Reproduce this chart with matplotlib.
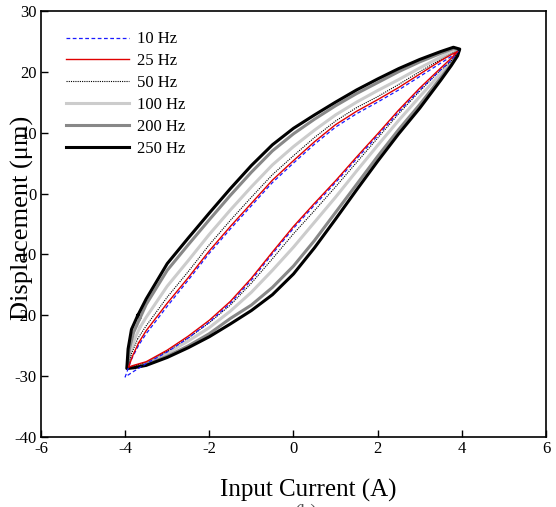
import matplotlib
matplotlib.use("Agg")
import matplotlib.pyplot as plt

plt.rcParams['font.family'] = ['Liberation Serif', 'DejaVu Serif']
plt.rcParams['axes.unicode_minus'] = False

# common current grid (A) for the middle part of every branch
current = [-3.5, -3.0, -2.5, -2.0, -1.5, -1.0, -0.5, 0.0, 0.5, 1.0, 1.5, 2.0, 2.5, 3.0, 3.5]

# 10 Hz
lo_10 = [-27.9, -26.0, -23.7, -21.1, -18.0, -14.2, -9.9, -5.7, -1.9, 1.8, 5.7, 9.5, 13.4, 17.0, 20.3]
up_10 = [-23.0, -18.5, -14.2, -9.8, -5.8, -2.0, 1.8, 5.0, 8.1, 10.9, 13.1, 15.0, 17.0, 19.2, 21.4]
bot_10_x = [-3.68, -3.85, -4.0, -3.8]
bot_10_y = [-24.9, -27.2, -30.1, -29.2]
top_10_x = [3.75, 3.92, 3.75]
top_10_y = [21.9, 23.4, 22.5]

# 25 Hz
lo_25 = [-27.6, -25.7, -23.4, -20.8, -17.7, -13.9, -9.6, -5.4, -1.6, 2.1, 6.0, 9.8, 13.7, 17.3, 20.6]
up_25 = [-22.5, -18.0, -13.8, -9.4, -5.4, -1.6, 2.2, 5.4, 8.5, 11.3, 13.5, 15.4, 17.4, 19.6, 21.8]
bot_25_x = [-3.68, -3.82, -3.92, -3.8]
bot_25_y = [-24.5, -26.6, -28.5, -28.2]
top_25_x = [3.75, 3.9, 3.75]
top_25_y = [22.2, 23.3, 22.8]

# 50 Hz
lo_50 = [-27.7, -25.9, -23.7, -21.2, -18.3, -14.7, -10.7, -6.6, -2.8, 1.1, 5.1, 9.1, 13.1, 16.8, 20.3]
up_50 = [-21.7, -17.0, -12.8, -8.4, -4.4, -0.6, 3.1, 6.2, 9.2, 11.9, 14.1, 15.9, 17.9, 20.0, 22.0]
bot_50_x = [-3.7, -3.85, -3.92, -3.8]
bot_50_y = [-23.8, -26.3, -28.5, -28.3]
top_50_x = [3.7, 3.82, 3.92, 3.8]
top_50_y = [21.4, 22.4, 23.4, 23.1]

# 100 Hz
lo_100 = [-27.9, -26.2, -24.2, -22.0, -19.3, -16.2, -12.6, -8.8, -4.7, -0.6, 3.7, 7.9, 12.0, 15.9, 19.7]
up_100 = [-20.3, -15.2, -11.0, -6.7, -2.7, 1.1, 4.7, 7.7, 10.4, 12.9, 15.0, 16.9, 18.7, 20.6, 22.4]
bot_100_x = [-3.65, -3.77, -3.88, -3.94, -3.8]
bot_100_y = [-22.0, -23.8, -26.0, -28.6, -28.4]
top_100_x = [3.7, 3.85, 3.93, 3.8]
top_100_y = [21.2, 22.6, 23.5, 23.4]

# 200 Hz
lo_200 = [-28.1, -26.7, -25.0, -23.0, -20.5, -18.3, -15.4, -11.9, -7.7, -3.1, 1.5, 6.1, 10.5, 14.6, 19.0]
up_200 = [-18.2, -12.6, -8.4, -4.3, -0.3, 3.5, 7.0, 9.8, 12.2, 14.4, 16.4, 18.2, 20.0, 21.6, 23.0]
bot_200_x = [-3.65, -3.8, -3.9, -3.95, -3.8]
bot_200_y = [-20.5, -22.8, -25.5, -28.7, -28.5]
top_200_x = [3.75, 3.88, 3.94, 3.8]
top_200_y = [21.2, 22.6, 23.6, 23.8]

# 250 Hz
lo_250 = [-28.2, -26.9, -25.3, -23.5, -21.4, -19.2, -16.6, -13.2, -8.9, -4.2, 0.6, 5.3, 9.8, 14.0, 18.6]
up_250 = [-17.3, -11.5, -7.3, -3.2, 0.8, 4.6, 8.0, 10.7, 12.9, 15.0, 17.0, 18.8, 20.5, 22.0, 23.3]
bot_250_x = [-3.7, -3.85, -3.93, -3.96, -3.8]
bot_250_y = [-20.0, -22.3, -25.5, -28.7, -28.6]
top_250_x = [3.75, 3.9, 3.95, 3.8]
top_250_y = [21.0, 22.6, 23.7, 24.0]


def loop_path(lo, up, bot_x, bot_y, top_x, top_y):
    # bottom tip -> lower branch -> top tip -> upper branch back down
    xs = bot_x + current + top_x + current[::-1] + bot_x[:1]
    ys = bot_y + lo + top_y + up[::-1] + bot_y[:1]
    return xs, ys


loops = [
    ('10 Hz', loop_path(lo_10, up_10, bot_10_x, bot_10_y, top_10_x, top_10_y),
     dict(color='#1a1aff', lw=0.9, ls=(0, (3, 2)), zorder=6)),
    ('25 Hz', loop_path(lo_25, up_25, bot_25_x, bot_25_y, top_25_x, top_25_y),
     dict(color='#e00000', lw=1.0, ls='-', zorder=7)),
    ('50 Hz', loop_path(lo_50, up_50, bot_50_x, bot_50_y, top_50_x, top_50_y),
     dict(color='black', lw=0.8, ls=(0, (1, 1)), zorder=5)),
    ('100 Hz', loop_path(lo_100, up_100, bot_100_x, bot_100_y, top_100_x, top_100_y),
     dict(color='#cccccc', lw=2.2, ls='-', zorder=2)),
    ('200 Hz', loop_path(lo_200, up_200, bot_200_x, bot_200_y, top_200_x, top_200_y),
     dict(color='#888888', lw=2.2, ls='-', zorder=3)),
    ('250 Hz', loop_path(lo_250, up_250, bot_250_x, bot_250_y, top_250_x, top_250_y),
     dict(color='black', lw=2.2, ls='-', zorder=4)),
]

fig = plt.figure(figsize=(5.56, 5.07), dpi=100)
ax = fig.add_axes([0.0737, 0.1375, 0.9083, 0.8414])

for label, (xs, ys), style in loops:
    ax.plot(xs, ys, label=label, solid_joinstyle='round', **style)

ax.set_xlim(-6, 6)
ax.set_ylim(-40, 30)
ax.set_xticks(range(-6, 7, 2))
ax.set_yticks(range(-40, 31, 10))
ax.tick_params(direction='in', length=5, width=1, labelsize=12, pad=3)
for sp in ax.spines.values():
    sp.set_linewidth(1.2)

ax.set_xlabel('Input Current (A)', fontsize=18)
ax.xaxis.set_label_coords(0.53, -0.098)
ax.set_ylabel('Displacement (μm)', fontsize=19, va='center')
ax.yaxis.set_label_coords(-0.036, 0.515)

ax.legend(loc='upper left', bbox_to_anchor=(0.036, 0.967), frameon=False,
          fontsize=12, handlelength=3.8, handletextpad=0.5, labelspacing=0.35,
          borderaxespad=0)

fig.text(0.55, 0.006, '(b)', fontsize=14, ha='center', va='top', color='#555555')

fig.savefig('out.png', dpi=100)
